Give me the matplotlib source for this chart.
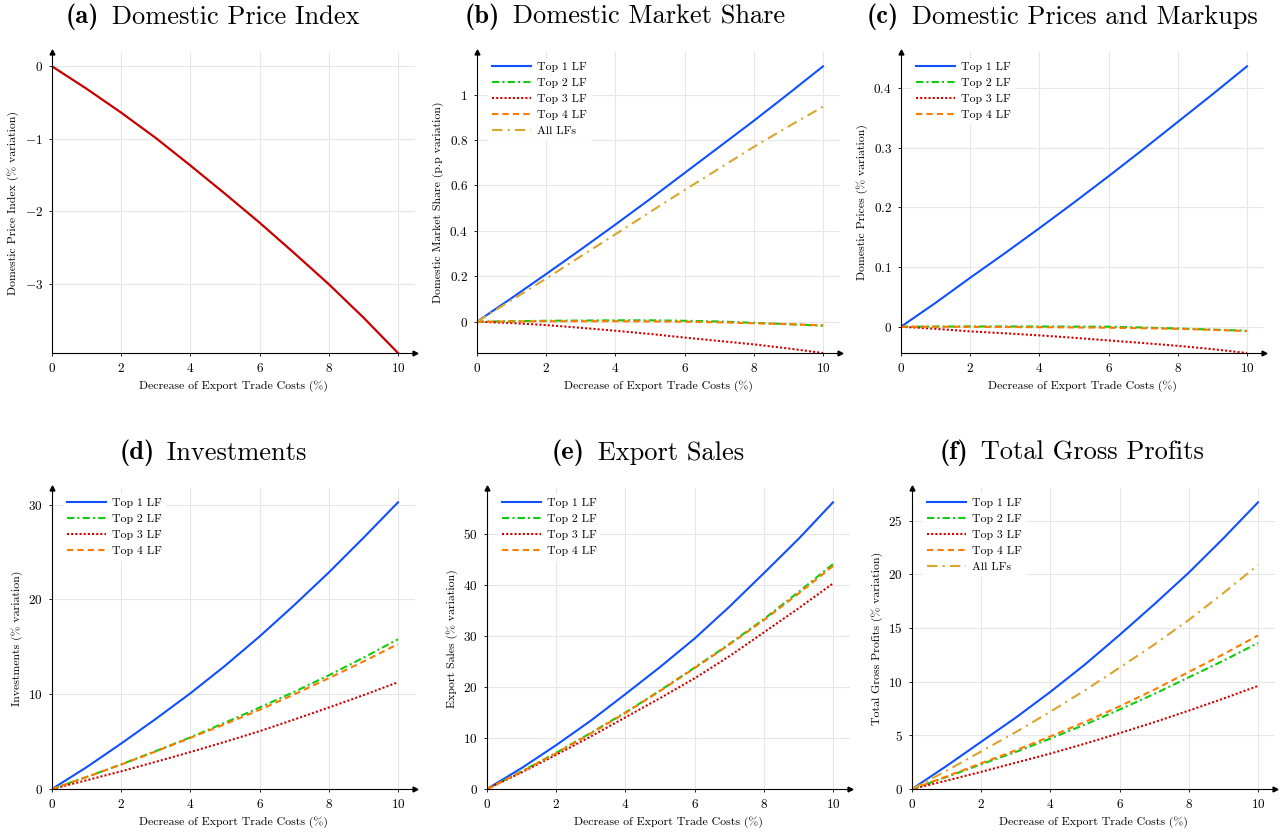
import matplotlib
matplotlib.use("Agg")
import matplotlib.pyplot as plt
from matplotlib.ticker import MultipleLocator, FuncFormatter

plt.rcParams["font.family"] = ["cmr10", "DejaVu Serif"]
plt.rcParams["mathtext.fontset"] = "cm"
plt.rcParams["axes.unicode_minus"] = True
plt.rcParams["axes.formatter.use_mathtext"] = True

# x: decrease of export trade costs (%)
x = [0, 1, 2, 3, 4, 5, 6, 7, 8, 9, 10]

# (a) domestic price index
price_index = [0, -0.31, -0.64, -0.99, -1.37, -1.76, -2.16, -2.58, -3.01, -3.47, -3.96]

# (b) domestic market share (p.p.)
share_top1 = [0, 0.104, 0.21, 0.318, 0.428, 0.54, 0.655, 0.77, 0.885, 1.004, 1.125]
share_top2 = [0, 0.002, 0.004, 0.005, 0.006, 0.006, 0.004, 0.001, -0.005, -0.011, -0.018]
share_top3 = [0, -0.006, -0.015, -0.027, -0.04, -0.054, -0.07, -0.085, -0.1, -0.118, -0.138]
share_top4 = [0, 0.001, 0.002, 0.002, 0.002, 0.001, 0, -0.003, -0.007, -0.011, -0.016]
share_all = [0, 0.095, 0.19, 0.288, 0.385, 0.483, 0.58, 0.675, 0.77, 0.86, 0.947]

# (c) domestic prices
prices_top1 = [0, 0.04, 0.082, 0.123, 0.165, 0.208, 0.252, 0.297, 0.343, 0.389, 0.436]
prices_top2 = [0, 0.0003, 0.0005, 0.0005, 0.0004, 0.0002, 0, -0.0013, -0.003, -0.0048, -0.0067]
prices_top3 = [0, -0.0035, -0.0078, -0.011, -0.0145, -0.0185, -0.023, -0.0273, -0.032, -0.0375, -0.044]
prices_top4 = [0, 0, -0.0002, -0.0005, -0.0008, -0.0012, -0.0017, -0.0025, -0.0035, -0.0052, -0.0073]

# (d) investments
inv_top1 = [0, 2.3, 4.8, 7.4, 10.1, 13.0, 16.1, 19.4, 22.85, 26.5, 30.25]
inv_top2 = [0, 1.27, 2.6, 4.0, 5.45, 7.0, 8.6, 10.25, 12.0, 13.85, 15.8]
inv_top3 = [0, 0.92, 1.87, 2.87, 3.9, 4.98, 6.1, 7.33, 8.6, 9.9, 11.27]
inv_top4 = [0, 1.26, 2.58, 3.97, 5.4, 6.85, 8.35, 9.98, 11.7, 13.45, 15.3]

# (e) export sales
exp_top1 = [0, 4.1, 8.6, 13.4, 18.6, 23.9, 29.5, 35.7, 42.3, 49.0, 56.2]
exp_top2 = [0, 3.45, 7.1, 11.0, 15.0, 19.3, 23.8, 28.4, 33.3, 38.6, 44.1]
exp_top3 = [0, 3.25, 6.7, 10.3, 14.05, 17.8, 21.7, 26.0, 30.7, 35.4, 40.3]
exp_top4 = [0, 3.4, 7.0, 10.9, 14.9, 19.2, 23.7, 28.3, 33.1, 38.3, 43.7]

# (f) total gross profits
prof_top1 = [0, 2.15, 4.4, 6.65, 9.05, 11.6, 14.35, 17.2, 20.15, 23.35, 26.7]
prof_top2 = [0, 1.12, 2.3, 3.45, 4.7, 6.0, 7.4, 8.85, 10.4, 11.95, 13.6]
prof_top3 = [0, 0.78, 1.6, 2.45, 3.3, 4.22, 5.2, 6.22, 7.3, 8.42, 9.6]
prof_top4 = [0, 1.17, 2.4, 3.6, 4.9, 6.25, 7.7, 9.25, 10.9, 12.55, 14.3]
prof_all = [0, 1.7, 3.5, 5.3, 7.2, 9.2, 11.3, 13.45, 15.75, 18.25, 20.85]

labels = ["Top 1 LF", "Top 2 LF", "Top 3 LF", "Top 4 LF", "All LFs"]
colors = ["#1050ff", "#10cc10", "#d40000", "#ff7a00", "#d9a52e"]
styles = ["-", (0, (3.5, 1.5, 1, 1.5)), (0, (1, 1)), (0, (3, 2)), (0, (5, 2.5, 1, 2.5))]

W, H = 1287, 835
fig = plt.figure(figsize=(W / 100, H / 100), dpi=100)

panels = [
    ("(a)", "Domestic Price Index", "Domestic Price Index (% variation)",
     [price_index], 1, 52, 353, 211, 17),
    ("(b)", "Domestic Market Share", "Domestic Market Share (p.p variation)",
     [share_top1, share_top2, share_top3, share_top4, share_all], 0.2, 477, 353, 623, 17),
    ("(c)", "Domestic Prices and Markups", "Domestic Prices (% variation)",
     [prices_top1, prices_top2, prices_top3, prices_top4], 0.1, 901, 353, 1060, 17),
    ("(d)", "Investments", "Investments (% variation)",
     [inv_top1, inv_top2, inv_top3, inv_top4], 10, 52, 789, 211, 453),
    ("(e)", "Export Sales", "Export Sales (% variation)",
     [exp_top1, exp_top2, exp_top3, exp_top4], 10, 487, 789, 646, 453),
    ("(f)", "Total Gross Profits", "Total Gross Profits (% variation)",
     [prof_top1, prof_top2, prof_top3, prof_top4, prof_all], 5, 912, 789, 1070, 453),
]

aw = 346 * 1.05
ah = 301
titles = []

for tag, title, ylab, series, ystep, left, bottom, tx, ty in panels:
    ax = fig.add_axes([left / W, 1 - bottom / H, aw / W, ah / H])
    if len(series) == 1:
        ax.plot(x, series[0], color="#c80000", lw=1.6)
    else:
        for s, lab, c, ls in zip(series, labels, colors, styles):
            ax.plot(x, s, color=c, ls=ls, lw=1.5, label=lab)
        ax.legend(loc="upper left", bbox_to_anchor=(0.015, 1.0), frameon=True,
                  fancybox=False, edgecolor="white", framealpha=1,
                  fontsize=8.5, handlelength=3.3, labelspacing=0.5,
                  borderpad=0.3, handletextpad=0.5)
    lo = min(min(s) for s in series)
    hi = max(max(s) for s in series)
    ax.set_xlim(0, 10.5)
    ax.set_ylim(lo, hi + 0.05 * (hi - lo))
    ax.xaxis.set_major_locator(MultipleLocator(2))
    ax.yaxis.set_major_locator(MultipleLocator(ystep))
    ax.xaxis.set_major_formatter(FuncFormatter(lambda v, p: f"${v:g}$"))
    ax.yaxis.set_major_formatter(FuncFormatter(lambda v, p: f"${round(v, 6):g}$"))
    ax.grid(True, color="#e6e6e6", lw=0.8)
    ax.set_axisbelow(True)
    for sp in ["top", "right"]:
        ax.spines[sp].set_visible(False)
    for sp in ["left", "bottom"]:
        ax.spines[sp].set_linewidth(0.8)
    ax.plot(1, 0, ">k", ms=3.5, transform=ax.transAxes, clip_on=False)
    ax.plot(0, 1, "^k", ms=3.5, transform=ax.transAxes, clip_on=False)
    ax.tick_params(labelsize=9.5, length=2.5, width=0.6, pad=4)
    ax.set_xlabel("Decrease of Export Trade Costs (%)", fontsize=8.5)
    ax.set_ylabel(ylab, fontsize=8.5)

    # bold tag + regular title, centred together
    t1 = fig.text(0, 1 - ty / H, tag, fontfamily="cmb10", fontsize=19, va="center")
    t2 = fig.text(0, 1 - ty / H, " " + title, fontsize=19, va="center")
    titles.append((t1, t2, tx))

r = fig.canvas.get_renderer()
for t1, t2, tx in titles:
    w1 = t1.get_window_extent(r).width
    w2 = t2.get_window_extent(r).width
    x0 = tx - (w1 + w2) / 2
    t1.set_x(x0 / W)
    t2.set_x((x0 + w1 + 4) / W)

fig.savefig("out.png", dpi=100)
